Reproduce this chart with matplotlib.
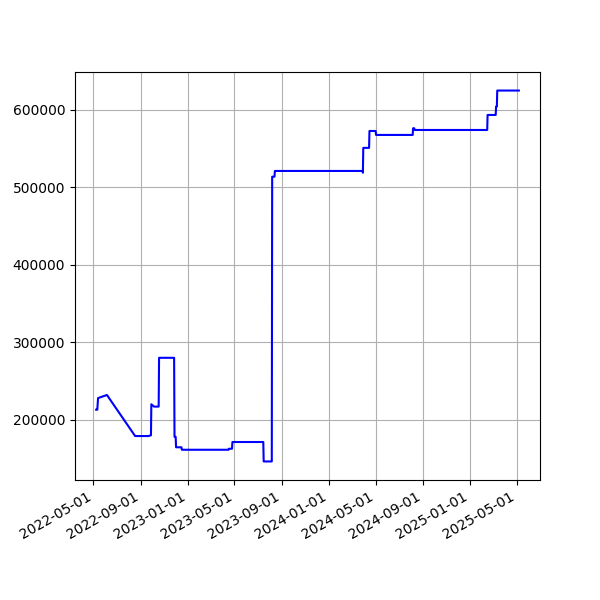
import matplotlib
matplotlib.use("Agg")
import matplotlib.pyplot as plt
import matplotlib.dates as mdates
import pandas as pd

dates = [
    "2022-05-08", "2022-05-11", "2022-05-13", "2022-06-05", "2022-08-17",
    "2022-09-21", "2022-09-27", "2022-09-28", "2022-10-05", "2022-10-17",
    "2022-10-18", "2022-11-26", "2022-11-27", "2022-11-30", "2022-12-01",
    "2022-12-15", "2022-12-16", "2023-04-16", "2023-04-17", "2023-04-25",
    "2023-04-26", "2023-07-15", "2023-07-16", "2023-08-06", "2023-08-07",
    "2023-08-13", "2023-08-14", "2024-03-28", "2024-03-29", "2024-03-30",
    "2024-04-14", "2024-04-15", "2024-05-01", "2024-05-02", "2024-08-05",
    "2024-08-06", "2024-08-09", "2024-08-10", "2025-02-14", "2025-02-15",
    "2025-03-08", "2025-03-09", "2025-03-11", "2025-03-12", "2025-05-07",
]
values = [
    213000, 213000, 228000, 232000, 179000,
    179000, 180000, 220000, 217000, 217000,
    280000, 280000, 178000, 178000, 164500,
    164500, 161300, 161300, 162600, 162600,
    171300, 171300, 146200, 146200, 513800,
    513800, 521200, 521200, 519000, 551000,
    551000, 572800, 572800, 567700, 567700,
    576300, 576300, 574100, 574100, 593500,
    593500, 604300, 604300, 625000, 625000,
]

x = pd.to_datetime(dates)

fig, ax = plt.subplots(figsize=(6, 6), dpi=100)
ax.plot(x, values, color="blue", linewidth=1.5)
ax.grid(True)
ax.xaxis.set_major_locator(mdates.MonthLocator(bymonth=[1, 5, 9]))
ax.xaxis.set_major_formatter(mdates.DateFormatter("%Y-%m-%d"))
fig.autofmt_xdate()
fig.savefig("out.png", dpi=100)
